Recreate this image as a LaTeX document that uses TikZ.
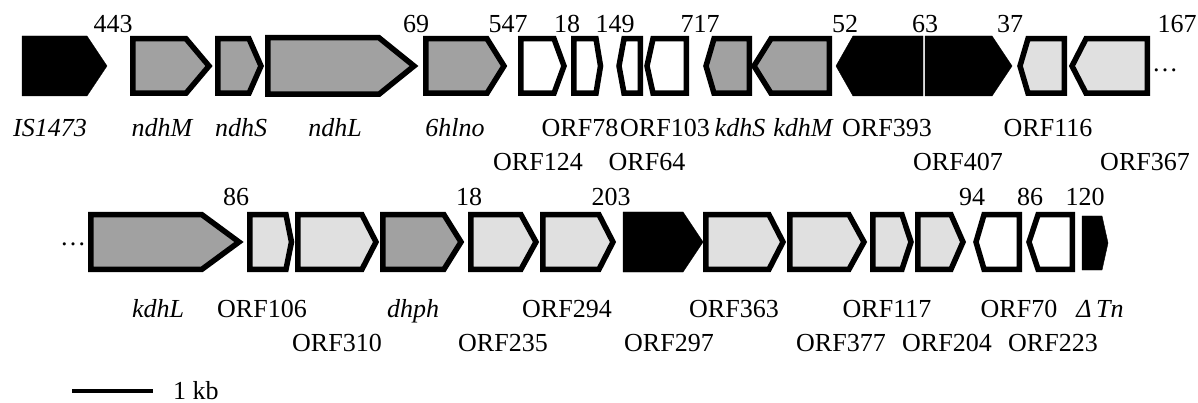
\documentclass[tikz,border=0pt]{standalone}
\usepackage{fontspec}
\setmainfont{Liberation Serif}
% forward gene: style, left x, shoulder x, tip x, top y, bottom y
\newcommand\orfR[6]{\draw[#1] (#2,#5) -- (#3,#5) -- (#4,{(#5+#6)/2}) -- (#3,#6) -- (#2,#6) -- cycle;}
% reverse gene: style, tip x, shoulder x, right x, top y, bottom y
\newcommand\orfL[6]{\draw[#1] (#2,{(#5+#6)/2}) -- (#3,#5) -- (#4,#5) -- (#4,#6) -- (#3,#6) -- cycle;}
\begin{document}
\begin{tikzpicture}[x=1pt,y=-1pt,
  outl/.style={draw=black,line width=5.5pt,line join=miter,miter limit=20},
  darkgene/.style={outl,fill=black!37},
  lightgene/.style={outl,fill=black!12},
  whitegene/.style={outl,fill=white},
  blackgene/.style={fill=black},
  lbl/.style={font=\fontsize{26}{26}\selectfont,inner sep=0pt,anchor=base},
  ilbl/.style={lbl,font=\fontsize{26}{26}\selectfont\itshape}]
\useasboundingbox (0,0) rectangle (1198,403);

% ---- first row of genes ----
\orfR{blackgene}{22}{87}{107}{36}{96}
\orfR{darkgene}{132.75}{186}{209}{38.75}{93.25}
\orfR{darkgene}{217.75}{249}{261}{38.75}{93.25}
\orfR{darkgene}{267.75}{379}{414}{37.75}{94.25}
\orfR{darkgene}{425.75}{487}{504}{38.75}{93.25}
\orfR{whitegene}{520.75}{554}{564}{38.75}{93.25}
\orfR{whitegene}{573.75}{596}{600.5}{38.75}{93.25}
\orfL{whitegene}{619}{624}{640.25}{38.75}{93.25}
\orfL{whitegene}{647}{653}{686.25}{38.75}{93.25}
\orfL{darkgene}{706}{714}{749.25}{38.75}{93.25}
\orfL{darkgene}{754}{771}{829.25}{38.75}{93.25}
\orfL{blackgene}{836}{853}{923}{36}{96}
\orfR{blackgene}{925}{992}{1012}{36}{96}
\orfL{lightgene}{1020}{1028}{1064.25}{38.75}{93.25}
\orfL{lightgene}{1072}{1086}{1147.25}{38.75}{93.25}

% ---- second row of genes ----
\orfR{darkgene}{90.75}{202}{239}{214.75}{269.25}
\orfR{lightgene}{249.75}{286}{291.5}{214.75}{269.25}
\orfR{lightgene}{297.75}{362}{376}{214.75}{269.25}
\orfR{darkgene}{382.75}{444}{461}{214.75}{269.25}
\orfR{lightgene}{470.75}{521}{536}{214.75}{269.25}
\orfR{lightgene}{542.75}{599}{613}{214.75}{269.25}
\orfR{blackgene}{623}{683}{703}{212}{272}
\orfR{lightgene}{705.75}{769}{783}{214.75}{269.25}
\orfR{lightgene}{789.75}{849}{864}{214.75}{269.25}
\orfR{lightgene}{872.75}{902}{911}{214.75}{269.25}
\orfR{lightgene}{917.75}{951}{963}{214.75}{269.25}
\orfL{whitegene}{976}{984}{1019.25}{214.75}{269.25}
\orfL{whitegene}{1029}{1038}{1072.25}{214.75}{269.25}
\orfR{blackgene}{1082}{1102}{1108}{216}{270}

% ---- intergenic distances ----
\node[lbl] (d1) at (113,33) {443};
\node[lbl] (d2) at (416,33) {69};
\node[lbl] (d3) at (508,33) {547};
\node[lbl] (d4) at (567,33) {18};
\node[lbl] (d5) at (615,33) {149};
\node[lbl] (d6) at (700,33) {717};
\node[lbl] (d7) at (845,33) {52};
\node[lbl] (d8) at (925,33) {63};
\node[lbl] (d9) at (1010,33) {37};
\node[lbl] (d10) at (1177,33) {167};
\node[lbl] (e1) at (236,206) {86};
\node[lbl] (e2) at (469,206) {18};
\node[lbl] (e3) at (611,206) {203};
\node[lbl] (e4) at (972,206) {94};
\node[lbl] (e5) at (1030,206) {86};
\node[lbl] (e6) at (1085,206) {120};

% continuation marks
\node[lbl] (cont1) at (1165,72) {\dots};
\node[lbl] (cont2) at (73,246) {\dots};

% ---- gene names, first row ----
\node[ilbl] (is) at (50,137) {IS1473};
\node[ilbl] (ndhM) at (162,137) {ndhM};
\node[ilbl] (ndhS) at (241,137) {ndhS};
\node[ilbl] (ndhL) at (335,137) {ndhL};
\node[ilbl] (hlno) at (455,137) {6hlno};
\node[lbl] (o78) at (580,137) {ORF78};
\node[lbl] (o103) at (665,137) {ORF103};
\node[ilbl] (kdhS) at (740,137) {kdhS};
\node[ilbl] (kdhM) at (803,137) {kdhM};
\node[lbl] (o393) at (887,137) {ORF393};
\node[lbl] (o116) at (1048,137) {ORF116};
\node[lbl] (o124) at (538,171) {ORF124};
\node[lbl] (o64) at (647,171) {ORF64};
\node[lbl] (o407) at (958,171) {ORF407};
\node[lbl] (o367) at (1145,171) {ORF367};

% ---- gene names, second row ----
\node[ilbl] (kdhL) at (158,317) {kdhL};
\node[lbl] (o106) at (262,317) {ORF106};
\node[ilbl] (dhph) at (413,317) {dhph};
\node[lbl] (o294) at (567,317) {ORF294};
\node[lbl] (o363) at (734,317) {ORF363};
\node[lbl] (o117) at (887,317) {ORF117};
\node[lbl] (o70) at (1019,317) {ORF70};
\node[ilbl] (tn) at (1100,317) {Δ\,Tn};
\node[lbl] (o310) at (337,351) {ORF310};
\node[lbl] (o235) at (503,351) {ORF235};
\node[lbl] (o297) at (669,351) {ORF297};
\node[lbl] (o377) at (841,351) {ORF377};
\node[lbl] (o204) at (947,351) {ORF204};
\node[lbl] (o223) at (1053,351) {ORF223};

% ---- scale bar ----
\coordinate (sb1) at (72,391);
\coordinate (sb2) at (153,391);
\draw[line width=4pt] (sb1) -- (sb2);
\node[lbl,anchor=base west] (kb) at (173,399) {1 kb};
\end{tikzpicture}
\end{document}
